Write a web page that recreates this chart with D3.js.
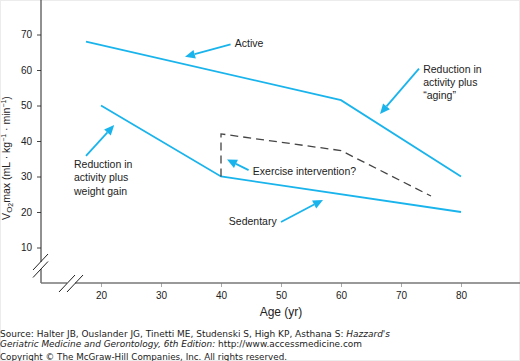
<!DOCTYPE html>
<html><head><meta charset="utf-8">
<script src="https://cdnjs.cloudflare.com/ajax/libs/d3/7.8.5/d3.min.js"></script>
<style>
html,body{margin:0;padding:0;background:#fff;}
svg{display:block;}
</style></head>
<body><svg id="c" width="520" height="361"></svg>
<script>
// ---- data ----
const xTicks = [20, 30, 40, 50, 60, 70, 80];
const yTicks = [10, 20, 30, 40, 50, 60, 70];
const activeAges = [17.5, 60, 80];
const activeVals = [68, 51.5, 30];
const sedentaryAges = [20, 40, 80];
const sedentaryVals = [50, 30, 20];
const exerciseAges = [40, 40, 60, 75];
const exerciseVals = [30, 42, 37.3, 24.5];
// annotation labels
const noteTexts = [
  ["Active"],
  ["Reduction in", "activity plus", "\u201Caging\u201D"],
  ["Reduction in", "activity plus", "weight gain"],
  ["Exercise intervention?"],
  ["Sedentary"]
];
const noteAges = [42.3, 73.7, 15.5, 45.3, 41.3];
const noteVals = [66.5, 59.2, 32.4, 30.4, 16.2];
// arrows: tail -> head in data units
const arrowTailAges = [41.6, 73.0, 17.5, 44.6, 50.0];
const arrowTailVals = [67.2, 60.4, 35.8, 31.8, 17.2];
const arrowHeadAges = [34.0, 66.5, 22.2, 41.0, 57.0];
const arrowHeadVals = [63.7, 47.6, 44.5, 34.8, 23.4];

const svg = d3.select("#c");
const W = 520, H = 361;
const x = d3.scaleLinear().domain([10, 90]).range([41, 521]);
const y = d3.scaleLinear().domain([0, 80]).range([283, -1]);
const cyan = "#1ab4ec";
const ink = "#222";

// faint frame
svg.append("rect").attr("x", 0.5).attr("y", 0.5).attr("width", W - 1).attr("height", H - 1)
  .attr("fill", "none").attr("stroke", "#d8d8d8").attr("stroke-dasharray", "1,1");

// axes
const gy = svg.append("g").attr("transform", `translate(${x(10)},0)`)
  .call(d3.axisLeft(y).tickValues(yTicks).tickSize(4).tickSizeOuter(0));
gy.select(".domain").remove();
gy.selectAll(".tick line").attr("stroke", "#444");
gy.selectAll(".tick text").attr("font-family", "Liberation Sans, Arial, sans-serif")
  .attr("font-size", 10).attr("fill", ink).attr("x", -9);

const gx = svg.append("g").attr("transform", `translate(0,${y(0)})`)
  .call(d3.axisBottom(x).tickValues(xTicks).tickSize(4).tickSizeOuter(0));
gx.select(".domain").remove();
gx.selectAll(".tick line").attr("stroke", "#aaa");
gx.selectAll(".tick text").attr("font-family", "Liberation Sans, Arial, sans-serif")
  .attr("font-size", 10).attr("fill", ink).attr("y", 9);

// y axis line with break
const y0 = y(0), xa = x(10);
svg.append("line").attr("x1", xa).attr("x2", xa).attr("y1", 0).attr("y2", y0 - 21).attr("stroke", ink);
svg.append("line").attr("x1", xa).attr("x2", xa).attr("y1", y0 - 14).attr("y2", y0).attr("stroke", ink);
[0, 7.5].forEach(d => {
  svg.append("line").attr("x1", xa - 8).attr("y1", y0 - 13 + d).attr("x2", xa + 7).attr("y2", y0 - 29 + d)
    .attr("stroke", ink);
});
// x axis line with break
svg.append("line").attr("x1", xa).attr("x2", xa + 26).attr("y1", y0).attr("y2", y0).attr("stroke", "#777").attr("stroke-width", 1.5);
svg.append("line").attr("x1", xa + 34).attr("x2", W).attr("y1", y0).attr("y2", y0).attr("stroke", "#777").attr("stroke-width", 1.5);
[0, 8].forEach(d => {
  svg.append("line").attr("x1", xa + 18 + d).attr("y1", y0 + 9).attr("x2", xa + 34 + d).attr("y2", y0 - 8)
    .attr("stroke", ink);
});

// axis titles
svg.append("text").attr("x", x(50)).attr("y", 316).attr("text-anchor", "middle")
  .attr("font-family", "Liberation Sans, Arial, sans-serif").attr("font-size", 12).attr("fill", ink)
  .text("Age (yr)");
const yl = svg.append("text").attr("transform", "translate(10,158) rotate(-90)").attr("text-anchor", "middle")
  .attr("font-family", "Liberation Sans, Arial, sans-serif").attr("font-size", 10.5).attr("fill", ink);
yl.append("tspan").text("V");
yl.append("tspan").attr("font-size", 8).attr("dy", 2).text("O");
yl.append("tspan").attr("font-size", 7).attr("dy", 1).text("2");
yl.append("tspan").attr("dy", -3).text("max (mL \u00B7 kg");
yl.append("tspan").attr("font-size", 7).attr("dy", -4).text("\u22121");
yl.append("tspan").attr("dy", 4).text(" \u00B7 min");
yl.append("tspan").attr("font-size", 7).attr("dy", -4).text("\u22121");
yl.append("tspan").attr("dy", 4).text(")");

// lines
const line = d3.line().x(d => x(d[0])).y(d => y(d[1]));
svg.append("path").datum(d3.zip(activeAges, activeVals)).attr("d", line)
  .attr("fill", "none").attr("stroke", cyan).attr("stroke-width", 1.8);
svg.append("path").datum(d3.zip(sedentaryAges, sedentaryVals)).attr("d", line)
  .attr("fill", "none").attr("stroke", cyan).attr("stroke-width", 1.8);
svg.append("path").datum(d3.zip(exerciseAges, exerciseVals)).attr("d", line)
  .attr("fill", "none").attr("stroke", "#444").attr("stroke-width", 1.3).attr("stroke-dasharray", "8,5");

// annotations
noteTexts.forEach((lines, i) => {
  const t = svg.append("text").attr("font-family", "Liberation Sans, Arial, sans-serif")
    .attr("font-size", 10.5).attr("fill", ink);
  lines.forEach((s, j) => {
    t.append("tspan").attr("x", x(noteAges[i])).attr("y", y(noteVals[i]) + j * 13.3).text(s);
  });
});

// arrows
arrowTailAges.forEach((_, i) => {
  const x1 = x(arrowTailAges[i]), y1 = y(arrowTailVals[i]);
  const x2 = x(arrowHeadAges[i]), y2 = y(arrowHeadVals[i]);
  const a = Math.atan2(y2 - y1, x2 - x1);
  const L = 10, hw = 4.5;
  const bx = x2 - L * Math.cos(a), by = y2 - L * Math.sin(a);
  svg.append("line").attr("x1", x1).attr("y1", y1).attr("x2", bx).attr("y2", by)
    .attr("stroke", cyan).attr("stroke-width", 1.8);
  const pts = [[x2, y2],
    [bx + hw * Math.sin(a), by - hw * Math.cos(a)],
    [bx - hw * Math.sin(a), by + hw * Math.cos(a)]];
  svg.append("polygon").attr("points", pts.map(p => p.join(",")).join(" ")).attr("fill", cyan);
});

// footer
const ff = "DejaVu Sans, Verdana, sans-serif";
const f1 = svg.append("text").attr("x", 0).attr("y", 336.5).attr("font-family", ff).attr("font-size", 8.5).attr("fill", ink)
  .attr("textLength", 390).attr("lengthAdjust", "spacingAndGlyphs");
f1.append("tspan").text("Source: Halter JB, Ouslander JG, Tinetti ME, Studenski S, High KP, Asthana S: ");
f1.append("tspan").attr("font-style", "italic").text("Hazzard's");
const f2 = svg.append("text").attr("x", 0).attr("y", 346.5).attr("font-family", ff).attr("font-size", 8.5).attr("fill", ink)
  .attr("textLength", 362).attr("lengthAdjust", "spacingAndGlyphs");
f2.append("tspan").attr("font-style", "italic").text("Geriatric Medicine and Gerontology, 6th Edition:");
f2.append("tspan").text(" http://www.accessmedicine.com");
svg.append("text").attr("x", 0).attr("y", 360).attr("font-family", ff).attr("font-size", 8.5).attr("fill", ink)
  .attr("textLength", 287).attr("lengthAdjust", "spacingAndGlyphs")
  .text("Copyright \u00A9 The McGraw-Hill Companies, Inc. All rights reserved.");
</script></body></html>
